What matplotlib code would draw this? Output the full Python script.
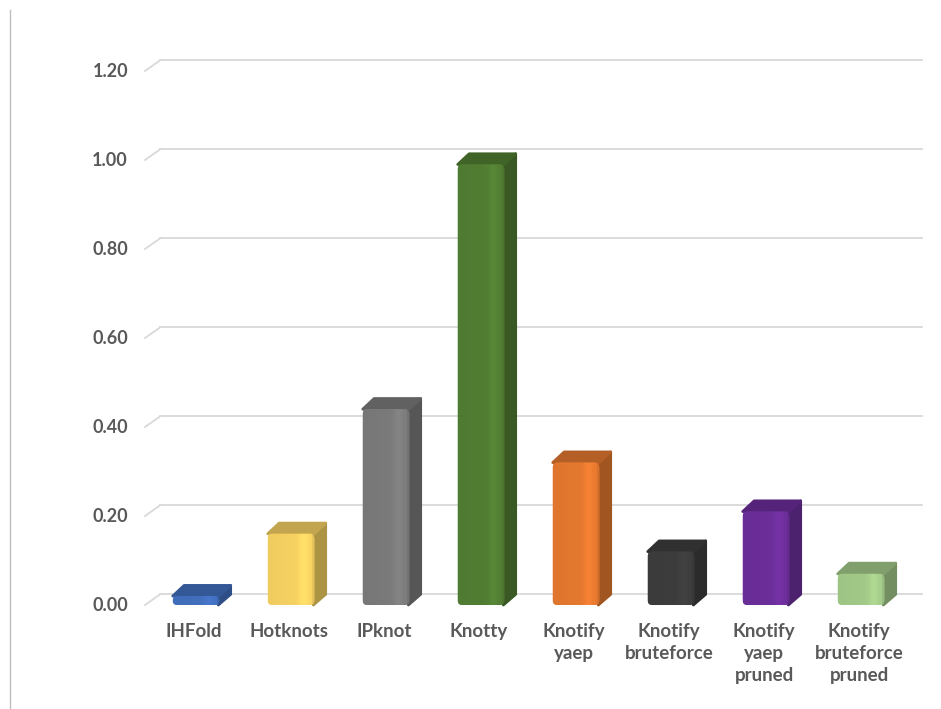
import numpy as np
import matplotlib.pyplot as plt
from matplotlib.patches import Polygon, FancyBboxPatch
from matplotlib.colors import to_rgb

# Data
methods = ['IHFold', 'Hotknots', 'IPknot', 'Knotty', 'Knotify\nyaep',
           'Knotify\nbruteforce', 'Knotify\nyaep\npruned', 'Knotify\nbruteforce\npruned']
values = [0.02, 0.16, 0.44, 0.99, 0.32, 0.12, 0.21, 0.07]
colors = ['#4472C4', '#FFD966', '#7F7F7F', '#548235', '#ED7D31',
          '#3F3F3F', '#7030A0', '#A9D18E']
yticks = [0.0, 0.2, 0.4, 0.6, 0.8, 1.0, 1.2]

# Layout (data units: one category = 95 px, one value unit = 445 px)
BAR_W = 0.49
DX = 0.12      # depth offset in x
DY = 0.024     # depth offset in y
TEXT_COLOR = '#595959'
GRID_COLOR = '#D9D9D9'
FONT = ['Lato', 'DejaVu Sans']


def shade(c, f):
    r, g, b = to_rgb(c)
    return (r * f, g * f, b * f)


fig = plt.figure(figsize=(9.41, 7.09), dpi=100)
ax = fig.add_axes([0, 0, 1, 1])
ax.set_xlim(-2.063, 7.842)
ax.set_ylim(-0.2337, 1.3596)
ax.axis('off')

# left frame line
fig.add_artist(plt.Line2D([0.0106, 0.0106], [0.0, 0.986], color='#BFBFBF', lw=1.0))

# gridlines on the back wall with the little diagonal on the left
x_left = -0.537
x_right = 7.64
for v in yticks:
    ax.plot([x_left, x_left + DX + 0.04], [v, v + DY], color=GRID_COLOR, lw=1.3, zorder=1)
    ax.plot([x_left + DX + 0.04, x_right], [v + DY, v + DY], color=GRID_COLOR, lw=1.3, zorder=1)
    ax.text(-0.716, v, f'{v:.2f}', ha='right', va='center', fontsize=13,
            fontweight='bold', color=TEXT_COLOR, family=FONT)

# gradient across front face
t = np.linspace(0, 1, 64)
bright = 0.98 - 0.04 * (1 - t) + 0.07 * np.exp(-((t - 0.76) / 0.1) ** 2) - 0.08 * (t > 0.94)

for i, (v, c) in enumerate(zip(values, colors)):
    x0 = i - BAR_W / 2
    x1 = i + BAR_W / 2
    # side face
    side = Polygon([(x1 - 0.01, 0), (x1 + DX, DY), (x1 + DX, v + DY), (x1 - 0.01, v)],
                   closed=True, fc=shade(c, 0.68), ec=shade(c, 0.68), lw=2,
                   joinstyle='round', zorder=2)
    ax.add_patch(side)
    # top face
    top = Polygon([(x0, v), (x0 + DX, v + DY), (x1 + DX, v + DY), (x1, v)],
                  closed=True, fc=shade(c, 0.76), ec=shade(c, 0.76), lw=2,
                  joinstyle='round', zorder=2)
    ax.add_patch(top)
    # front face with rounded corners and gradient
    front = FancyBboxPatch((x0, 0), BAR_W, v,
                           boxstyle='round,pad=0,rounding_size=0.05',
                           mutation_aspect=95 / 445, fc=c, ec='none', zorder=3)
    ax.add_patch(front)
    rgb = np.array(to_rgb(c))
    img = np.clip(rgb[None, None, :] * bright[None, :, None], 0, 1)
    im = ax.imshow(img, extent=(x0, x1, 0, v), aspect='auto', zorder=3.5,
                   interpolation='bilinear')
    im.set_clip_path(front)

    ax.text(i - 0.02, -0.04, methods[i], ha='center', va='top', fontsize=13.5,
            fontweight='bold', color=TEXT_COLOR, linespacing=1.36, family=FONT)

ax.set_xlim(-2.063, 7.842)
ax.set_ylim(-0.2337, 1.3596)

fig.savefig('out.png', dpi=100)
